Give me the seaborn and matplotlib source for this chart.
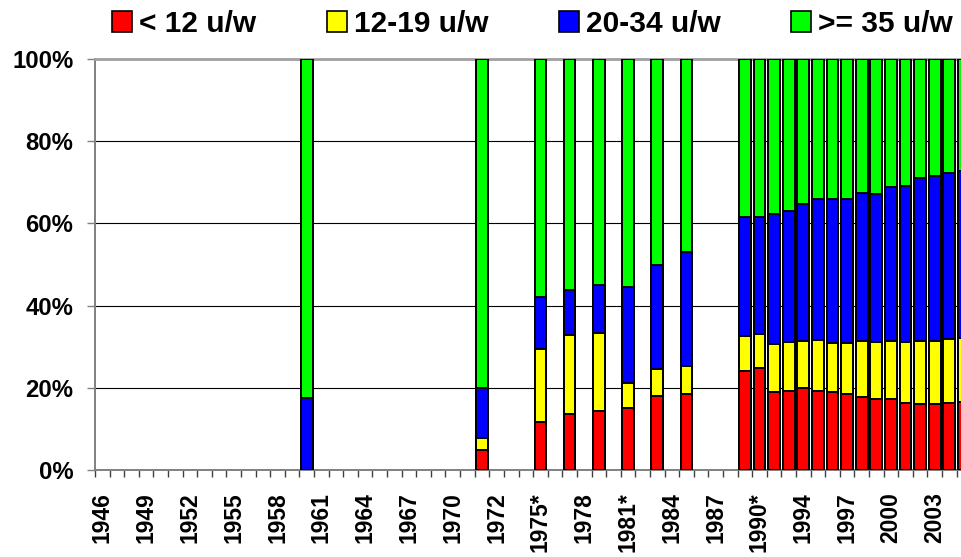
import numpy as np
import pandas as pd
import matplotlib
matplotlib.use("Agg")
import matplotlib.pyplot as plt
from matplotlib.patches import Patch
import seaborn as sns

plt.rcParams['font.family'] = ['Liberation Sans', 'DejaVu Sans']
plt.rcParams['font.weight'] = 'bold'

# ---- data -------------------------------------------------------------
years = [str(y) for y in range(1946, 1971)] + [
    "1970*", "1971", "1972", "1973", "1974", "1975*", "1976", "1977", "1978",
    "1979", "1980", "1981*", "1982", "1983", "1984", "1985", "1986", "1987",
    "1988", "1989", "1990*", "1992", "1993", "1994", "1995", "1996", "1997",
    "1998", "1999", "2000", "2001", "2002", "2003", "2004", "2005"]

data_years = ["1960", "1971", "1975*", "1977", "1979", "1981*", "1983", "1985",
              "1989", "1990*", "1992", "1993", "1994", "1995", "1996", "1997",
              "1998", "1999", "2000", "2001", "2002", "2003", "2004", "2005"]

under_12 = [0.0, 4.9, 11.8, 13.6, 14.3, 15.0, 18.1, 18.6,
            24.2, 24.7, 18.9, 19.1, 19.9, 19.3, 18.9, 18.4,
            17.7, 17.3, 17.2, 16.4, 16.1, 16.0, 16.2, 16.5]
from_12_19 = [0.0, 3.0, 17.6, 19.2, 19.1, 6.1, 6.5, 6.7,
              8.5, 8.4, 11.8, 12.0, 11.6, 12.3, 12.1, 12.5,
              13.8, 13.9, 14.2, 14.8, 15.4, 15.3, 15.6, 15.5]
from_20_34 = [17.4, 12.1, 12.7, 11.0, 11.5, 23.4, 25.4, 27.7,
              28.9, 28.5, 31.5, 31.8, 33.2, 34.4, 34.9, 35.1,
              35.8, 36.0, 37.5, 38.0, 39.5, 40.2, 40.5, 40.7]
over_35 = [82.6, 80.0, 57.9, 56.2, 55.1, 55.5, 50.0, 47.0,
           38.4, 38.4, 37.8, 37.1, 35.3, 34.0, 34.1, 34.0,
           32.7, 32.8, 31.1, 30.8, 29.0, 28.5, 27.7, 27.3]

series_names = ["< 12 u/w", "12-19 u/w", "20-34 u/w", ">= 35 u/w"]
series_colors = ["#FF0000", "#FFFF00", "#0000FF", "#00FF00"]
ytick_vals = [0, 20, 40, 60, 80, 100]
ytick_labels = ["0%", "20%", "40%", "60%", "80%", "100%"]

# ---- build stacked table --------------------------------------------------
df = pd.DataFrame({"year": data_years, "s1": under_12, "s2": from_12_19,
                   "s3": from_20_34, "s4": over_35})
df["c1"] = df["s1"]
df["c2"] = df["c1"] + df["s2"]
df["c3"] = df["c2"] + df["s3"]
df["c4"] = df["c3"] + df["s4"]

fig = plt.figure(figsize=(9.61, 5.57), dpi=100)
ax = fig.add_axes([95 / 961, 1 - 470 / 557, 1 - 95 / 961, 411 / 557])

for col, color in zip(["c4", "c3", "c2", "c1"], series_colors[::-1]):
    sns.barplot(data=df, x="year", y=col, order=years, color=color,
                saturation=1, edgecolor="black", linewidth=1.4, width=0.8,
                errorbar=None, ax=ax, zorder=3)

# ---- axes styling ---------------------------------------------------------
ax.set_xlabel("")
ax.set_ylabel("")

ax.set_yticks(ytick_vals)
ax.set_yticklabels(ytick_labels, fontsize=17.2, fontweight="bold")
ax.tick_params(axis="y", which="major", length=6, width=1, color="#808080",
               pad=9.5, direction="out")

label_pos = list(range(0, len(years), 3))
ax.set_xticks(label_pos)
ax.set_xticklabels([years[i] for i in label_pos], rotation=90,
                   fontsize=16.5, fontweight="bold")
ax.tick_params(axis="x", which="major", length=0, pad=16)
ax.set_xticks(np.arange(-0.5, len(years), 1), minor=True)
ax.tick_params(axis="x", which="minor", length=5, width=1, color="#404040",
               direction="out")

ax.set_xlim(-0.5, 58.8)
ax.set_ylim(0, 100)

ax.yaxis.grid(True, color="black", linewidth=0.8)
ax.xaxis.grid(False)
ax.set_axisbelow(True)

for side in ["left", "bottom"]:
    ax.spines[side].set_color("#808080")
    ax.spines[side].set_linewidth(1.4)
ax.spines["top"].set_color("#A0A0A0")
ax.spines["top"].set_linewidth(2)
ax.spines["right"].set_visible(False)

# ---- legend -------------------------------------------------------------
handles = [Patch(facecolor=c, edgecolor="black", linewidth=1.2)
           for c in series_colors]
fig.legend(handles, series_names, loc="center", ncol=4,
           bbox_to_anchor=(0.554, 0.957), frameon=False,
           prop={"size": 21.5, "weight": "bold"},
           handlelength=0.67, handleheight=0.67, handletextpad=0.23,
           columnspacing=2.37, borderaxespad=0, borderpad=0)

fig.savefig("out.png", dpi=100)
